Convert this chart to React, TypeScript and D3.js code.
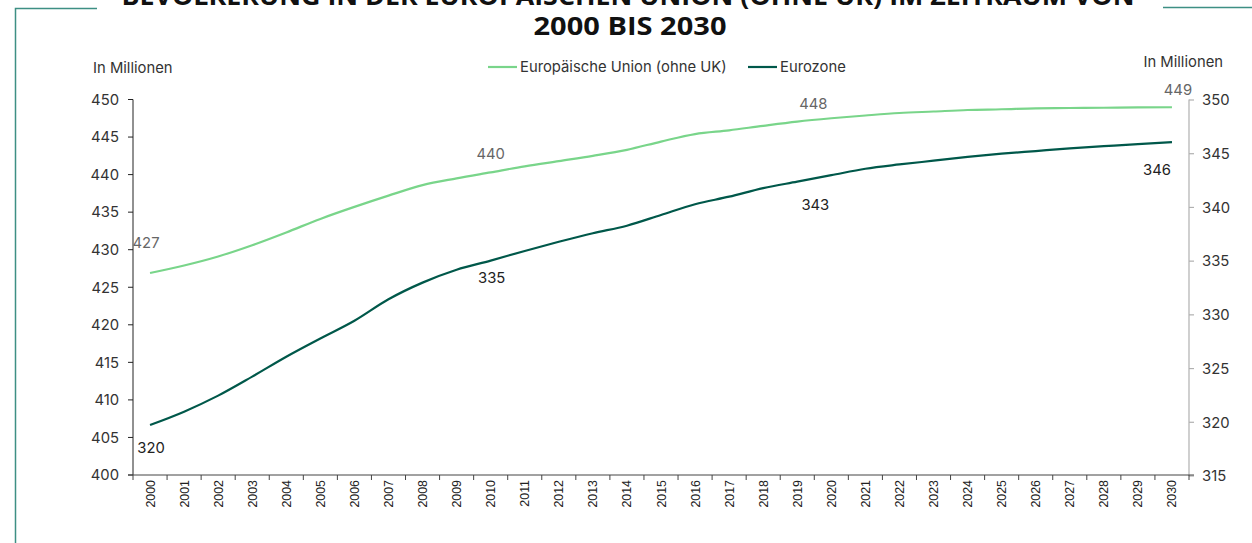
import React from "react";
import * as d3 from "d3";

const years = d3.range(2000, 2031).map(String);
const euValues = [
  426.9, 427.9, 429.1, 430.6, 432.3, 434.1, 435.7, 437.2, 438.6, 439.5,
  440.3, 441.1, 441.8, 442.5, 443.3, 444.4, 445.4, 445.9, 446.5, 447.06,
  447.5, 447.87, 448.2, 448.4, 448.6, 448.7, 448.83, 448.87, 448.9, 448.96, 448.97,
];
const ezValues = [
  319.75, 320.99, 322.48, 324.25, 326.1, 327.8, 329.45, 331.45, 333.0, 334.2,
  335.05, 335.95, 336.8, 337.6, 338.3, 339.3, 340.3, 341.0, 341.8, 342.4,
  343.0, 343.6, 344.0, 344.35, 344.7, 345.0, 345.25, 345.5, 345.7, 345.9, 346.07,
];
const leftTicks = [400, 405, 410, 415, 420, 425, 430, 435, 440, 445, 450];
const rightTicks = [315, 320, 325, 330, 335, 340, 345, 350];
const euLabelYears = ["2000", "2010", "2020", "2030"];
const ezLabelYears = ["2000", "2010", "2020", "2030"];
const seriesNames = ["Europäische Union (ohne UK)", "Eurozone"];
const titleLines = [
  "BEVÖLKERUNG IN DER EUROPÄISCHEN UNION (OHNE UK) IM ZEITRAUM VON",
  "2000 BIS 2030",
];
const unitLabel = "In Millionen";

const W = 1252;
const H = 543;
const plot = { left: 133, right: 1189, top: 99.5, bottom: 475 };
const euColor = "#79d58a";
const ezColor = "#00584a";
const frameColor = "#3d8f84";
const font = "Inter, 'Noto Sans', sans-serif";

// label offsets (layout only)
const euLabelOffsets: Record<string, [number, number]> = {
  "2000": [-4, -30],
  "2010": [0, -19],
  "2020": [-18, -15],
  "2030": [6, -18],
};
const ezLabelOffsets: Record<string, [number, number]> = {
  "2000": [1, 23],
  "2010": [1, 17],
  "2020": [-16, 29],
  "2030": [-15, 27],
};

export default function App() {
  const x = d3.scaleBand<string>().domain(years).range([plot.left, plot.right]);
  const cx = (y: string) => (x(y) as number) + x.bandwidth() / 2;
  const yL = d3.scaleLinear().domain([400, 450]).range([plot.bottom, plot.top]);
  const yR = d3.scaleLinear().domain([315, 350]).range([plot.bottom + 1, plot.top + 0.5]);

  const euLine = d3
    .line<number>()
    .x((_, i) => cx(years[i]))
    .y((d) => yL(d))
    .curve(d3.curveMonotoneX);
  const ezLine = d3
    .line<number>()
    .x((_, i) => cx(years[i]))
    .y((d) => yR(d))
    .curve(d3.curveMonotoneX);

  const bandEdges = years.map((y) => x(y) as number).concat([plot.right]);
  const fs = 14.8;

  return (
    <svg
      width={W}
      height={H}
      style={{ position: "absolute", left: 0, top: 0, background: "#fff" }}
      fontFamily={font}
    >
      <rect x={0} y={0} width={W} height={H} fill="#fff" />
      {/* frame */}
      <path d={`M15.5,${H} V8.5 H97`} fill="none" stroke={frameColor} strokeWidth={1.5} />
      <path d={`M1163,7.5 H${W}`} fill="none" stroke={frameColor} strokeWidth={1.5} />

      {/* title */}
      <text x={628} y={5} textAnchor="middle" fontSize={25} fontWeight={700} fill="#111"
        fontFamily="'Open Sans', sans-serif" textLength={1013} lengthAdjust="spacingAndGlyphs">
        {titleLines[0]}
      </text>
      <text x={630} y={35} textAnchor="middle" fontSize={25} fontWeight={700} fill="#111"
        fontFamily="'Open Sans', sans-serif" textLength={193} lengthAdjust="spacingAndGlyphs">
        {titleLines[1]}
      </text>

      {/* unit labels */}
      <text x={93} y={73} fontSize={fs} fill="#333">{unitLabel}</text>
      <text x={1223} y={67} fontSize={fs} fill="#333" textAnchor="end">{unitLabel}</text>

      {/* legend */}
      <line x1={488} x2={517} y1={67} y2={67} stroke={euColor} strokeWidth={2.2} />
      <text x={520} y={72} fontSize={fs} fill="#333">{seriesNames[0]}</text>
      <line x1={748} x2={777} y1={67} y2={67} stroke={ezColor} strokeWidth={2.2} />
      <text x={780} y={72} fontSize={fs} fill="#333">{seriesNames[1]}</text>

      {/* left axis */}
      <line x1={plot.left} x2={plot.left} y1={plot.top} y2={plot.bottom} stroke="#222" strokeWidth={1} />
      {leftTicks.map((t) => (
        <g key={"l" + t}>
          <line x1={plot.left - 5} x2={plot.left} y1={yL(t)} y2={yL(t)} stroke="#222" />
          <text x={119} y={yL(t)} dy="0.36em" textAnchor="end" fontSize={fs} fill="#333">
            {t}
          </text>
        </g>
      ))}

      {/* right axis */}
      <line x1={plot.right} x2={plot.right} y1={plot.top} y2={plot.bottom + 1} stroke="#b0b0b0" strokeWidth={1.2} />
      {rightTicks.map((t) => (
        <g key={"r" + t}>
          <line x1={plot.right} x2={plot.right + 5} y1={yR(t)} y2={yR(t)} stroke="#b0b0b0" strokeWidth={1.2} />
          <text x={1202} y={yR(t)} dy="0.36em" textAnchor="start" fontSize={fs} fill="#333">
            {t}
          </text>
        </g>
      ))}

      {/* bottom axis */}
      <line x1={plot.left - 5} x2={plot.right + 5} y1={plot.bottom} y2={plot.bottom} stroke="#444" strokeWidth={1} />
      {bandEdges.map((e, i) => (
        <line key={"b" + i} x1={e} x2={e} y1={plot.bottom} y2={plot.bottom + 5} stroke="#444" />
      ))}
      {years.map((y) => (
        <text
          key={"x" + y}
          transform={`translate(${cx(y) + 4.5},${plot.bottom + 5}) rotate(-90)`}
          textAnchor="end"
          fontSize={12.4}
          fontFamily="'Liberation Sans', Arial, sans-serif"
          fill="#222"
        >
          {y}
        </text>
      ))}

      {/* lines */}
      <path d={euLine(euValues) || ""} fill="none" stroke={euColor} strokeWidth={2.2} />
      <path d={ezLine(ezValues) || ""} fill="none" stroke={ezColor} strokeWidth={2.2} />

      {/* data labels */}
      {euLabelYears.map((yr) => {
        const i = years.indexOf(yr);
        const [dx, dy] = euLabelOffsets[yr];
        return (
          <text key={"el" + yr} x={cx(yr) + dx} y={yL(euValues[i]) + dy} dy="0.36em" textAnchor="middle" fontSize={fs} fill="#666">
            {Math.round(euValues[i])}
          </text>
        );
      })}
      {ezLabelYears.map((yr) => {
        const i = years.indexOf(yr);
        const [dx, dy] = ezLabelOffsets[yr];
        return (
          <text key={"zl" + yr} x={cx(yr) + dx} y={yR(ezValues[i]) + dy} dy="0.36em" textAnchor="middle" fontSize={fs} fill="#222">
            {Math.round(ezValues[i])}
          </text>
        );
      })}
    </svg>
  );
}
